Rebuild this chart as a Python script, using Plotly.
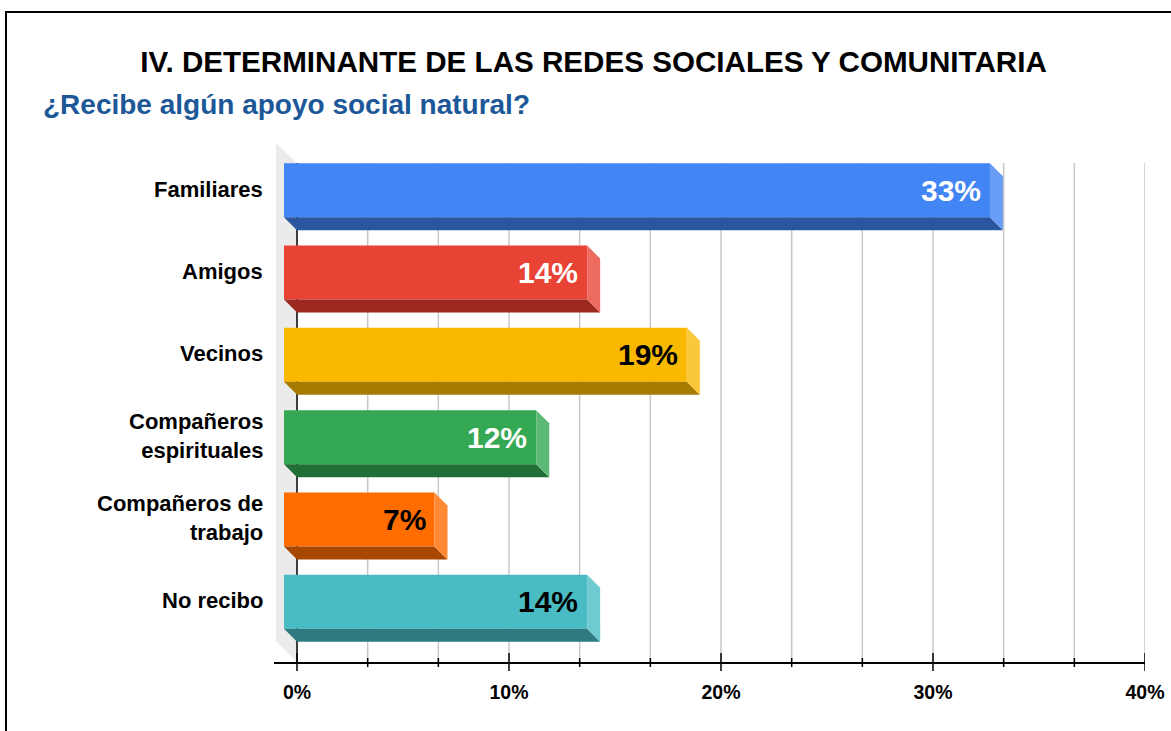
import plotly.graph_objects as go

# ---------------- data ----------------
categories = ["Familiares", "Amigos", "Vecinos", "Compañeros<br>espirituales",
              "Compañeros de<br>trabajo", "No recibo"]
values = [33.3, 14.3, 19.0, 11.9, 7.1, 14.3]
front_colors = ["#4285F4", "#E84335", "#F9B900", "#34A853", "#FF6D00", "#48BBC3"]
bottom_colors = ["#2A56A0", "#9B291F", "#A67B00", "#226E37", "#A84700", "#2E7A7F"]
side_colors = ["#6A9EF6", "#EE6B5F", "#FBC83C", "#5DBA76", "#FF8A33", "#6ECBD1"]
label_colors = ["white", "white", "black", "white", "black", "black"]
x_ticks = [0, 10, 20, 30, 40]
x_tick_text = ["0%", "10%", "20%", "30%", "40%"]
title_text = "IV. DETERMINANTE DE LAS REDES SOCIALES Y COMUNITARIA"
subtitle_text = "¿Recibe algún apoyo social natural?"

# ---------------- geometry ----------------
W, H = 1171, 731
ML, MR, MT, MB = 274, 26, 143, 69
PW, PH = W - ML - MR, H - MT - MB
X_MIN, X_MAX = -1.085, 40
Y_TOP, Y_BOT = -0.655, 5.655
PXX = PW / (X_MAX - X_MIN)      # px per percent
PXY = PH / (Y_BOT - Y_TOP)      # px per category unit

dx = 13 / PXX
dy = 13 / PXY
fh = 54 / PXY
half = 67 / 2 / PXY
FONT = "Liberation Sans, Arial, sans-serif"

fig = go.Figure()

for i, (cat, v) in enumerate(zip(categories, values)):
    top = i - half
    # front face
    fig.add_trace(go.Scatter(
        x=[-dx, v - dx, v - dx, -dx, -dx], y=[top, top, top + fh, top + fh, top],
        fill="toself", fillcolor=front_colors[i], mode="lines",
        line=dict(width=0, color=front_colors[i]), hoverinfo="skip", showlegend=False))
    # bottom face
    fig.add_trace(go.Scatter(
        x=[-dx, v - dx, v, 0, -dx], y=[top + fh, top + fh, top + fh + dy, top + fh + dy, top + fh],
        fill="toself", fillcolor=bottom_colors[i], mode="lines",
        line=dict(width=0, color=bottom_colors[i]), hoverinfo="skip", showlegend=False))
    # side face
    fig.add_trace(go.Scatter(
        x=[v - dx, v, v, v - dx, v - dx], y=[top, top + dy, top + fh + dy, top + fh, top],
        fill="toself", fillcolor=side_colors[i], mode="lines",
        line=dict(width=0, color=side_colors[i]), hoverinfo="skip", showlegend=False))

annotations = []
for i, (cat, v) in enumerate(zip(categories, values)):
    yc = i - half + fh / 2
    annotations.append(dict(
        x=v - dx, y=yc, xref="x", yref="y", xanchor="right", yanchor="middle",
        xshift=-7, text=f"<b>{round(v)}%</b>", showarrow=False,
        font=dict(family=FONT, size=30, color=label_colors[i])))
    annotations.append(dict(
        x=0, y=yc, xref="paper", yref="y", xanchor="right", yanchor="middle",
        align="right", xshift=-10, yshift=1,
        text="<br>".join(f"<b>{ln}</b>" for ln in cat.split("<br>")), showarrow=False,
        borderpad=0, font=dict(family=FONT, size=22, color="black")))

annotations.append(dict(
    x=(41 - ML) / PW, y=(H - MB - 104) / PH, xref="paper", yref="paper",
    xanchor="left", yanchor="middle", text=f"<b>{subtitle_text}</b>", showarrow=False,
    font=dict(family=FONT, size=28, color="#1C5898")))

shapes = []
# outer border
shapes.append(dict(type="rect", xref="paper", yref="paper",
                   x0=(6 - ML) / PW, x1=(W + 10 - ML) / PW,
                   y0=(H - MB - (H + 10)) / PH, y1=(H - MB - 12) / PH,
                   line=dict(color="black", width=2), layer="below"))
# side wall
wall_top_y = Y_TOP + 20 / PXY
wall_x = X_MIN + 2 / PXX
shapes.append(dict(type="path", xref="x", yref="y",
                   path=f"M {wall_x},{Y_TOP} L 0,{wall_top_y} L 0,{Y_BOT} L {wall_x},{Y_BOT - 21 / PXY} Z",
                   fillcolor="#EBEBEB", line=dict(width=0), layer="below"))
# gridlines
step = 10 / 3
for k in range(1, 13):
    gx = k * step
    shapes.append(dict(type="line", xref="x", yref="y", x0=gx, x1=gx, y0=wall_top_y, y1=Y_BOT,
                       line=dict(color="#C8C8C8", width=1.5), layer="below"))
# vertical axis line at 0
shapes.append(dict(type="line", xref="x", yref="y", x0=0, x1=0, y0=wall_top_y, y1=Y_BOT,
                   line=dict(color="black", width=1.5), layer="below"))
# ticks
for k in range(0, 13):
    gx = k * step
    major = (k % 3 == 0)
    up, dn = (9, 9) if major else (4, 5)
    shapes.append(dict(type="line", xref="x", yref="y domain", x0=gx, x1=gx,
                       y0=-dn / PH, y1=up / PH,
                       line=dict(color="black", width=1.5)))

fig.update_layout(
    width=W, height=H,
    margin=dict(l=ML, r=MR, t=MT, b=MB, pad=0, autoexpand=False),
    paper_bgcolor="white", plot_bgcolor="rgba(0,0,0,0)",
    title=dict(text=f"<b>{title_text}</b>", x=593.5 / W, xanchor="center",
               xref="container", y=1 - 61.5 / H, yanchor="middle", yref="container",
               font=dict(family=FONT, size=29.6, color="black")),
    xaxis=dict(range=[X_MIN, X_MAX], showgrid=False, zeroline=False, automargin=False,
               showline=True, linecolor="black", linewidth=1.5,
               tickvals=x_ticks, ticktext=[f"<b>{t}</b>" for t in x_tick_text],
               ticks="", ticklabelstandoff=12,
               tickfont=dict(family=FONT, size=19.5, color="black"), fixedrange=True),
    yaxis=dict(range=[Y_BOT, Y_TOP], showgrid=False, zeroline=False, showline=False,
               automargin=False, showticklabels=False, ticks="", fixedrange=True),
    shapes=shapes, annotations=annotations, showlegend=False,
)

fig.write_html("out.html", config={"displayModeBar": False},
               post_script="document.body.style.margin='0';document.body.style.overflow='hidden';")
